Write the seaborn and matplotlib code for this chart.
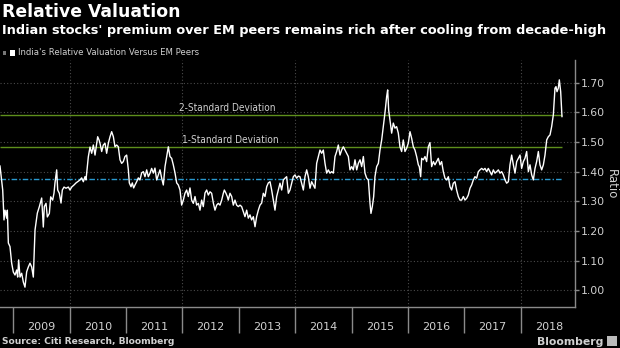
import numpy as np
import pandas as pd
import matplotlib
matplotlib.use("Agg")
import matplotlib.pyplot as plt
import seaborn as sns
from matplotlib.patches import Rectangle

# ---------------- data ----------------
years = [
    2008.764, 2008.812, 2008.835, 2008.853, 2008.882, 2008.894, 2008.912, 2008.941, 2008.971,
    2009.000, 2009.030, 2009.060, 2009.077, 2009.095, 2009.119, 2009.148, 2009.178, 2009.207,
    2009.237, 2009.266, 2009.296, 2009.326, 2009.355, 2009.385, 2009.426, 2009.462, 2009.503,
    2009.532, 2009.550, 2009.580, 2009.603, 2009.639, 2009.663, 2009.698, 2009.722, 2009.739,
    2009.769, 2009.787, 2009.816, 2009.846, 2009.869, 2009.899, 2009.934, 2009.976,
    2010.005, 2010.035, 2010.076, 2010.112, 2010.141, 2010.183, 2010.212, 2010.242, 2010.271,
    2010.289, 2010.313, 2010.330, 2010.360, 2010.390, 2010.419, 2010.449, 2010.496, 2010.520,
    2010.537, 2010.567, 2010.596, 2010.626, 2010.655, 2010.685, 2010.715, 2010.744, 2010.774,
    2010.803, 2010.833, 2010.862, 2010.892, 2010.921, 2010.951, 2010.980,
    2011.010, 2011.040, 2011.057, 2011.087, 2011.110, 2011.134, 2011.158, 2011.187, 2011.217,
    2011.246, 2011.276, 2011.305, 2011.335, 2011.365, 2011.394, 2011.424, 2011.453, 2011.483,
    2011.512, 2011.542, 2011.571, 2011.601, 2011.631, 2011.660, 2011.690, 2011.719, 2011.749,
    2011.778, 2011.808, 2011.837, 2011.867, 2011.897, 2011.926, 2011.956, 2011.985,
    2012.015, 2012.044, 2012.074, 2012.103, 2012.133, 2012.162, 2012.192, 2012.222, 2012.251,
    2012.281, 2012.310, 2012.340, 2012.369, 2012.399, 2012.429, 2012.458, 2012.488, 2012.517,
    2012.547, 2012.576, 2012.606, 2012.635, 2012.665, 2012.695, 2012.724, 2012.742, 2012.771,
    2012.795, 2012.812, 2012.842, 2012.872, 2012.901, 2012.931, 2012.960, 2012.990,
    2013.020, 2013.049, 2013.079, 2013.108, 2013.138, 2013.167, 2013.197, 2013.226, 2013.256,
    2013.286, 2013.315, 2013.345, 2013.374, 2013.404, 2013.433, 2013.463, 2013.493, 2013.522,
    2013.552, 2013.581, 2013.611, 2013.640, 2013.670, 2013.699, 2013.729, 2013.759, 2013.788,
    2013.818, 2013.847, 2013.877, 2013.906, 2013.936, 2013.965, 2013.995,
    2014.024, 2014.054, 2014.083, 2014.113, 2014.143, 2014.172, 2014.202, 2014.231, 2014.261,
    2014.290, 2014.320, 2014.349, 2014.379, 2014.409, 2014.438, 2014.468, 2014.497, 2014.527,
    2014.556, 2014.586, 2014.615, 2014.645, 2014.675, 2014.704, 2014.734, 2014.763, 2014.793,
    2014.822, 2014.852, 2014.881, 2014.911, 2014.941, 2014.970,
    2015.000, 2015.029, 2015.059, 2015.089, 2015.118, 2015.148, 2015.177, 2015.207, 2015.236,
    2015.266, 2015.296, 2015.325, 2015.342, 2015.366, 2015.390, 2015.413, 2015.443, 2015.473,
    2015.502, 2015.532, 2015.561, 2015.591, 2015.620, 2015.638, 2015.656, 2015.679, 2015.709,
    2015.738, 2015.768, 2015.797, 2015.827, 2015.856, 2015.886, 2015.915, 2015.945, 2015.975,
    2016.004, 2016.034, 2016.063, 2016.093, 2016.122, 2016.152, 2016.182, 2016.199, 2016.223,
    2016.241, 2016.270, 2016.300, 2016.329, 2016.359, 2016.388, 2016.418, 2016.448, 2016.477,
    2016.507, 2016.536, 2016.566, 2016.595, 2016.625, 2016.654, 2016.684, 2016.714, 2016.743,
    2016.773, 2016.802, 2016.832, 2016.861, 2016.891, 2016.920, 2016.950, 2016.980,
    2017.009, 2017.039, 2017.068, 2017.098, 2017.127, 2017.157, 2017.186, 2017.216, 2017.246,
    2017.275, 2017.305, 2017.335, 2017.364, 2017.394, 2017.423, 2017.453, 2017.482, 2017.512,
    2017.541, 2017.571, 2017.601, 2017.630, 2017.660, 2017.689, 2017.719, 2017.748, 2017.778,
    2017.807, 2017.837, 2017.867, 2017.896, 2017.926, 2017.955, 2017.985,
    2018.014, 2018.044, 2018.073, 2018.103, 2018.133, 2018.162, 2018.192, 2018.221, 2018.251,
    2018.280, 2018.310, 2018.339, 2018.369, 2018.399, 2018.428, 2018.458, 2018.487, 2018.517,
    2018.546, 2018.576, 2018.605, 2018.623, 2018.641, 2018.664, 2018.682, 2018.706, 2018.729,
]

ratio = [
    1.419, 1.338, 1.237, 1.270, 1.243, 1.270, 1.159, 1.147, 1.091,
    1.061, 1.051, 1.068, 1.044, 1.102, 1.044, 1.057, 1.027, 1.010,
    1.062, 1.078, 1.091, 1.078, 1.044, 1.203, 1.260, 1.282, 1.311,
    1.213, 1.282, 1.293, 1.247, 1.259, 1.315, 1.304, 1.328, 1.362,
    1.406, 1.338, 1.327, 1.294, 1.338, 1.348, 1.344, 1.348,
    1.338, 1.348, 1.355, 1.362, 1.366, 1.372, 1.379, 1.366, 1.383,
    1.372, 1.416, 1.450, 1.483, 1.462, 1.490, 1.456, 1.518, 1.507,
    1.496, 1.468, 1.490, 1.496, 1.462, 1.496, 1.518, 1.535, 1.518,
    1.484, 1.490, 1.484, 1.440, 1.428, 1.434, 1.451,
    1.456, 1.406, 1.362, 1.349, 1.362, 1.345, 1.355, 1.366, 1.379,
    1.372, 1.396, 1.400, 1.383, 1.406, 1.383, 1.395, 1.411, 1.395,
    1.412, 1.372, 1.389, 1.406, 1.378, 1.355, 1.417, 1.451, 1.484,
    1.451, 1.445, 1.423, 1.396, 1.362, 1.355, 1.338, 1.287,
    1.304, 1.327, 1.338, 1.316, 1.345, 1.304, 1.293, 1.316, 1.287,
    1.293, 1.270, 1.304, 1.282, 1.328, 1.338, 1.321, 1.332, 1.327,
    1.294, 1.270, 1.287, 1.293, 1.287, 1.304, 1.327, 1.338, 1.327,
    1.316, 1.304, 1.327, 1.316, 1.287, 1.304, 1.287, 1.282,
    1.287, 1.282, 1.265, 1.248, 1.270, 1.243, 1.254, 1.237, 1.248,
    1.214, 1.248, 1.270, 1.287, 1.294, 1.327, 1.316, 1.349, 1.362,
    1.366, 1.338, 1.304, 1.270, 1.316, 1.338, 1.361, 1.338, 1.372,
    1.378, 1.383, 1.327, 1.338, 1.361, 1.383, 1.389,
    1.378, 1.385, 1.383, 1.361, 1.338, 1.383, 1.406, 1.383, 1.344,
    1.366, 1.355, 1.344, 1.428, 1.451, 1.473, 1.462, 1.473, 1.428,
    1.395, 1.406, 1.395, 1.400, 1.395, 1.451, 1.468, 1.490, 1.456,
    1.473, 1.484, 1.473, 1.462, 1.451, 1.406,
    1.417, 1.406, 1.440, 1.406, 1.428, 1.440, 1.417, 1.451, 1.395,
    1.378, 1.372, 1.293, 1.259, 1.282, 1.316, 1.383, 1.417, 1.428,
    1.473, 1.507, 1.552, 1.600, 1.653, 1.676, 1.608, 1.575, 1.530,
    1.564, 1.547, 1.552, 1.530, 1.484, 1.468, 1.507, 1.468, 1.479,
    1.496, 1.535, 1.513, 1.484, 1.473, 1.451, 1.423, 1.417, 1.383,
    1.445, 1.440, 1.451, 1.434, 1.484, 1.498, 1.417, 1.434, 1.423,
    1.434, 1.445, 1.423, 1.434, 1.400, 1.378, 1.372, 1.383, 1.349,
    1.338, 1.361, 1.366, 1.338, 1.316, 1.304, 1.304, 1.316,
    1.304, 1.310, 1.321, 1.344, 1.355, 1.372, 1.383, 1.378, 1.400,
    1.406, 1.411, 1.406, 1.411, 1.400, 1.411, 1.400, 1.389, 1.406,
    1.395, 1.400, 1.406, 1.395, 1.400, 1.389, 1.372, 1.361, 1.366,
    1.423, 1.456, 1.423, 1.395, 1.434, 1.445, 1.456,
    1.411, 1.434, 1.445, 1.468, 1.400, 1.423, 1.389, 1.372, 1.411,
    1.434, 1.468, 1.423, 1.406, 1.423, 1.456, 1.507, 1.518, 1.524,
    1.552, 1.592, 1.682, 1.687, 1.670, 1.682, 1.710, 1.670, 1.586,
]

mean_level = 1.376
sd1_level = 1.482
sd2_level = 1.591
sd1_label = "1-Standard Deviation"
sd2_label = "2-Standard Deviation"
year_ticks = list(range(2009, 2019))
year_labels = [str(y) for y in year_ticks]
grid_years = [2010, 2012, 2014, 2016, 2018]
y_ticks = [1.00, 1.10, 1.20, 1.30, 1.40, 1.50, 1.60, 1.70]
series_name = "India's Relative Valuation Versus EM Peers"

df = pd.DataFrame({"year": years, "ratio": ratio})

# ---------------- style ----------------
TXT = "#d0d0d0"
AX = "#8a8a8a"
GRID = "#4a4a4a"
GREEN = "#5e8f1c"
CYAN = "#2a9ad0"

W, H = 620, 348
fig = plt.figure(figsize=(W / 100, H / 100), dpi=100, facecolor="black")
ax = fig.add_axes([0, (H - 307) / H, 575 / W, (307 - 60) / H])
ax.set_facecolor("black")

xmin, xmax = 2008.764, 2018.96
ymin, ymax = 0.943, 1.777
ax.set_xlim(xmin, xmax)
ax.set_ylim(ymin, ymax)

# gridlines
for yv in y_ticks:
    ax.axhline(yv, color=GRID, lw=0.8, ls=(0, (1, 2)), zorder=0)
for xv in grid_years:
    ax.axvline(xv, color=GRID, lw=0.8, ls=(0, (1, 2)), zorder=0)

# reference lines
ax.hlines([sd2_level, sd1_level], xmin, years[-1], color=GREEN, lw=1.0, zorder=2)
ax.hlines(mean_level, xmin, years[-1], color=CYAN, lw=1.0,
          linestyles=(0, (4, 1.5, 1, 1.5)), zorder=2)

sns.lineplot(data=df, x="year", y="ratio", ax=ax, color="white", lw=1.0,
             legend=False, zorder=3)

ax.text(2012.80, sd2_level + 0.008, sd2_label, color=TXT, fontsize=7.2,
        ha="center", va="bottom", fontstretch="condensed")
ax.text(2012.84, sd1_level + 0.008, sd1_label, color=TXT, fontsize=7.2,
        ha="center", va="bottom", fontstretch="condensed")

# spines
for s in ["top", "left"]:
    ax.spines[s].set_visible(False)
for s in ["right", "bottom"]:
    ax.spines[s].set_color(AX)
    ax.spines[s].set_linewidth(1.0)

# y axis on right
ax.yaxis.tick_right()
ax.set_yticks(y_ticks)
ax.set_yticklabels([f"{v:.2f}" for v in y_ticks])
ax.tick_params(axis="y", which="major", colors=AX, labelcolor=TXT, length=3,
               width=1, pad=1.2, labelsize=7.8, left=False, right=True)
ax.set_ylabel("")
fig.text(611 / W, 1 - 184 / H, "Ratio", rotation=270, color=TXT, fontsize=8.5,
         ha="center", va="center")

# x axis: boundaries as long ticks, labels centred in year
ax.set_xticks(year_ticks)
ax.set_xticklabels([""] * len(year_ticks))
ax.set_xticks([y + 0.5 for y in year_ticks], minor=True)
ax.set_xticklabels(year_labels, minor=True)
ax.tick_params(axis="x", which="major", colors=AX, length=19, width=1, direction="out")
ax.tick_params(axis="x", which="minor", length=0, pad=11, labelcolor=TXT, labelsize=8)
ax.set_xlabel("")

# titles
fig.text(2 / W, 1 - 3 / H, "Relative Valuation", color="white", fontsize=12.4,
         fontweight="bold", ha="left", va="top")
fig.text(2 / W, 1 - 24 / H,
         "Indian stocks' premium over EM peers remains rich after cooling from decade-high",
         color="white", fontsize=9.3, fontweight="bold", ha="left", va="top")

# legend
fig.patches.append(Rectangle((3 / W, 1 - 55 / H), 3 / W, 4 / H, transform=fig.transFigure,
                             facecolor="#777777", edgecolor="none"))
fig.patches.append(Rectangle((9.5 / W, 1 - 56 / H), 5 / W, 6 / H, transform=fig.transFigure,
                             facecolor="white", edgecolor="none"))
fig.text(18 / W, 1 - 52.5 / H, series_name, color=TXT, fontsize=6.8, ha="left",
         va="center", fontstretch="condensed")

# footer
fig.text(2 / W, 1 - 342 / H, "Source: Citi Research, Bloomberg", color=TXT, fontsize=6.6,
         fontweight="bold", ha="left", va="center")
fig.text(603 / W, 1 - 342 / H, "Bloomberg", color=TXT, fontsize=7.8,
         fontweight="bold", ha="right", va="center")
fig.patches.append(Rectangle((607 / W, 1 - 346 / H), 10 / W, 10 / H, transform=fig.transFigure,
                             facecolor="#bbbbbb", edgecolor="none"))

fig.savefig("out.png", dpi=100, facecolor="black")
